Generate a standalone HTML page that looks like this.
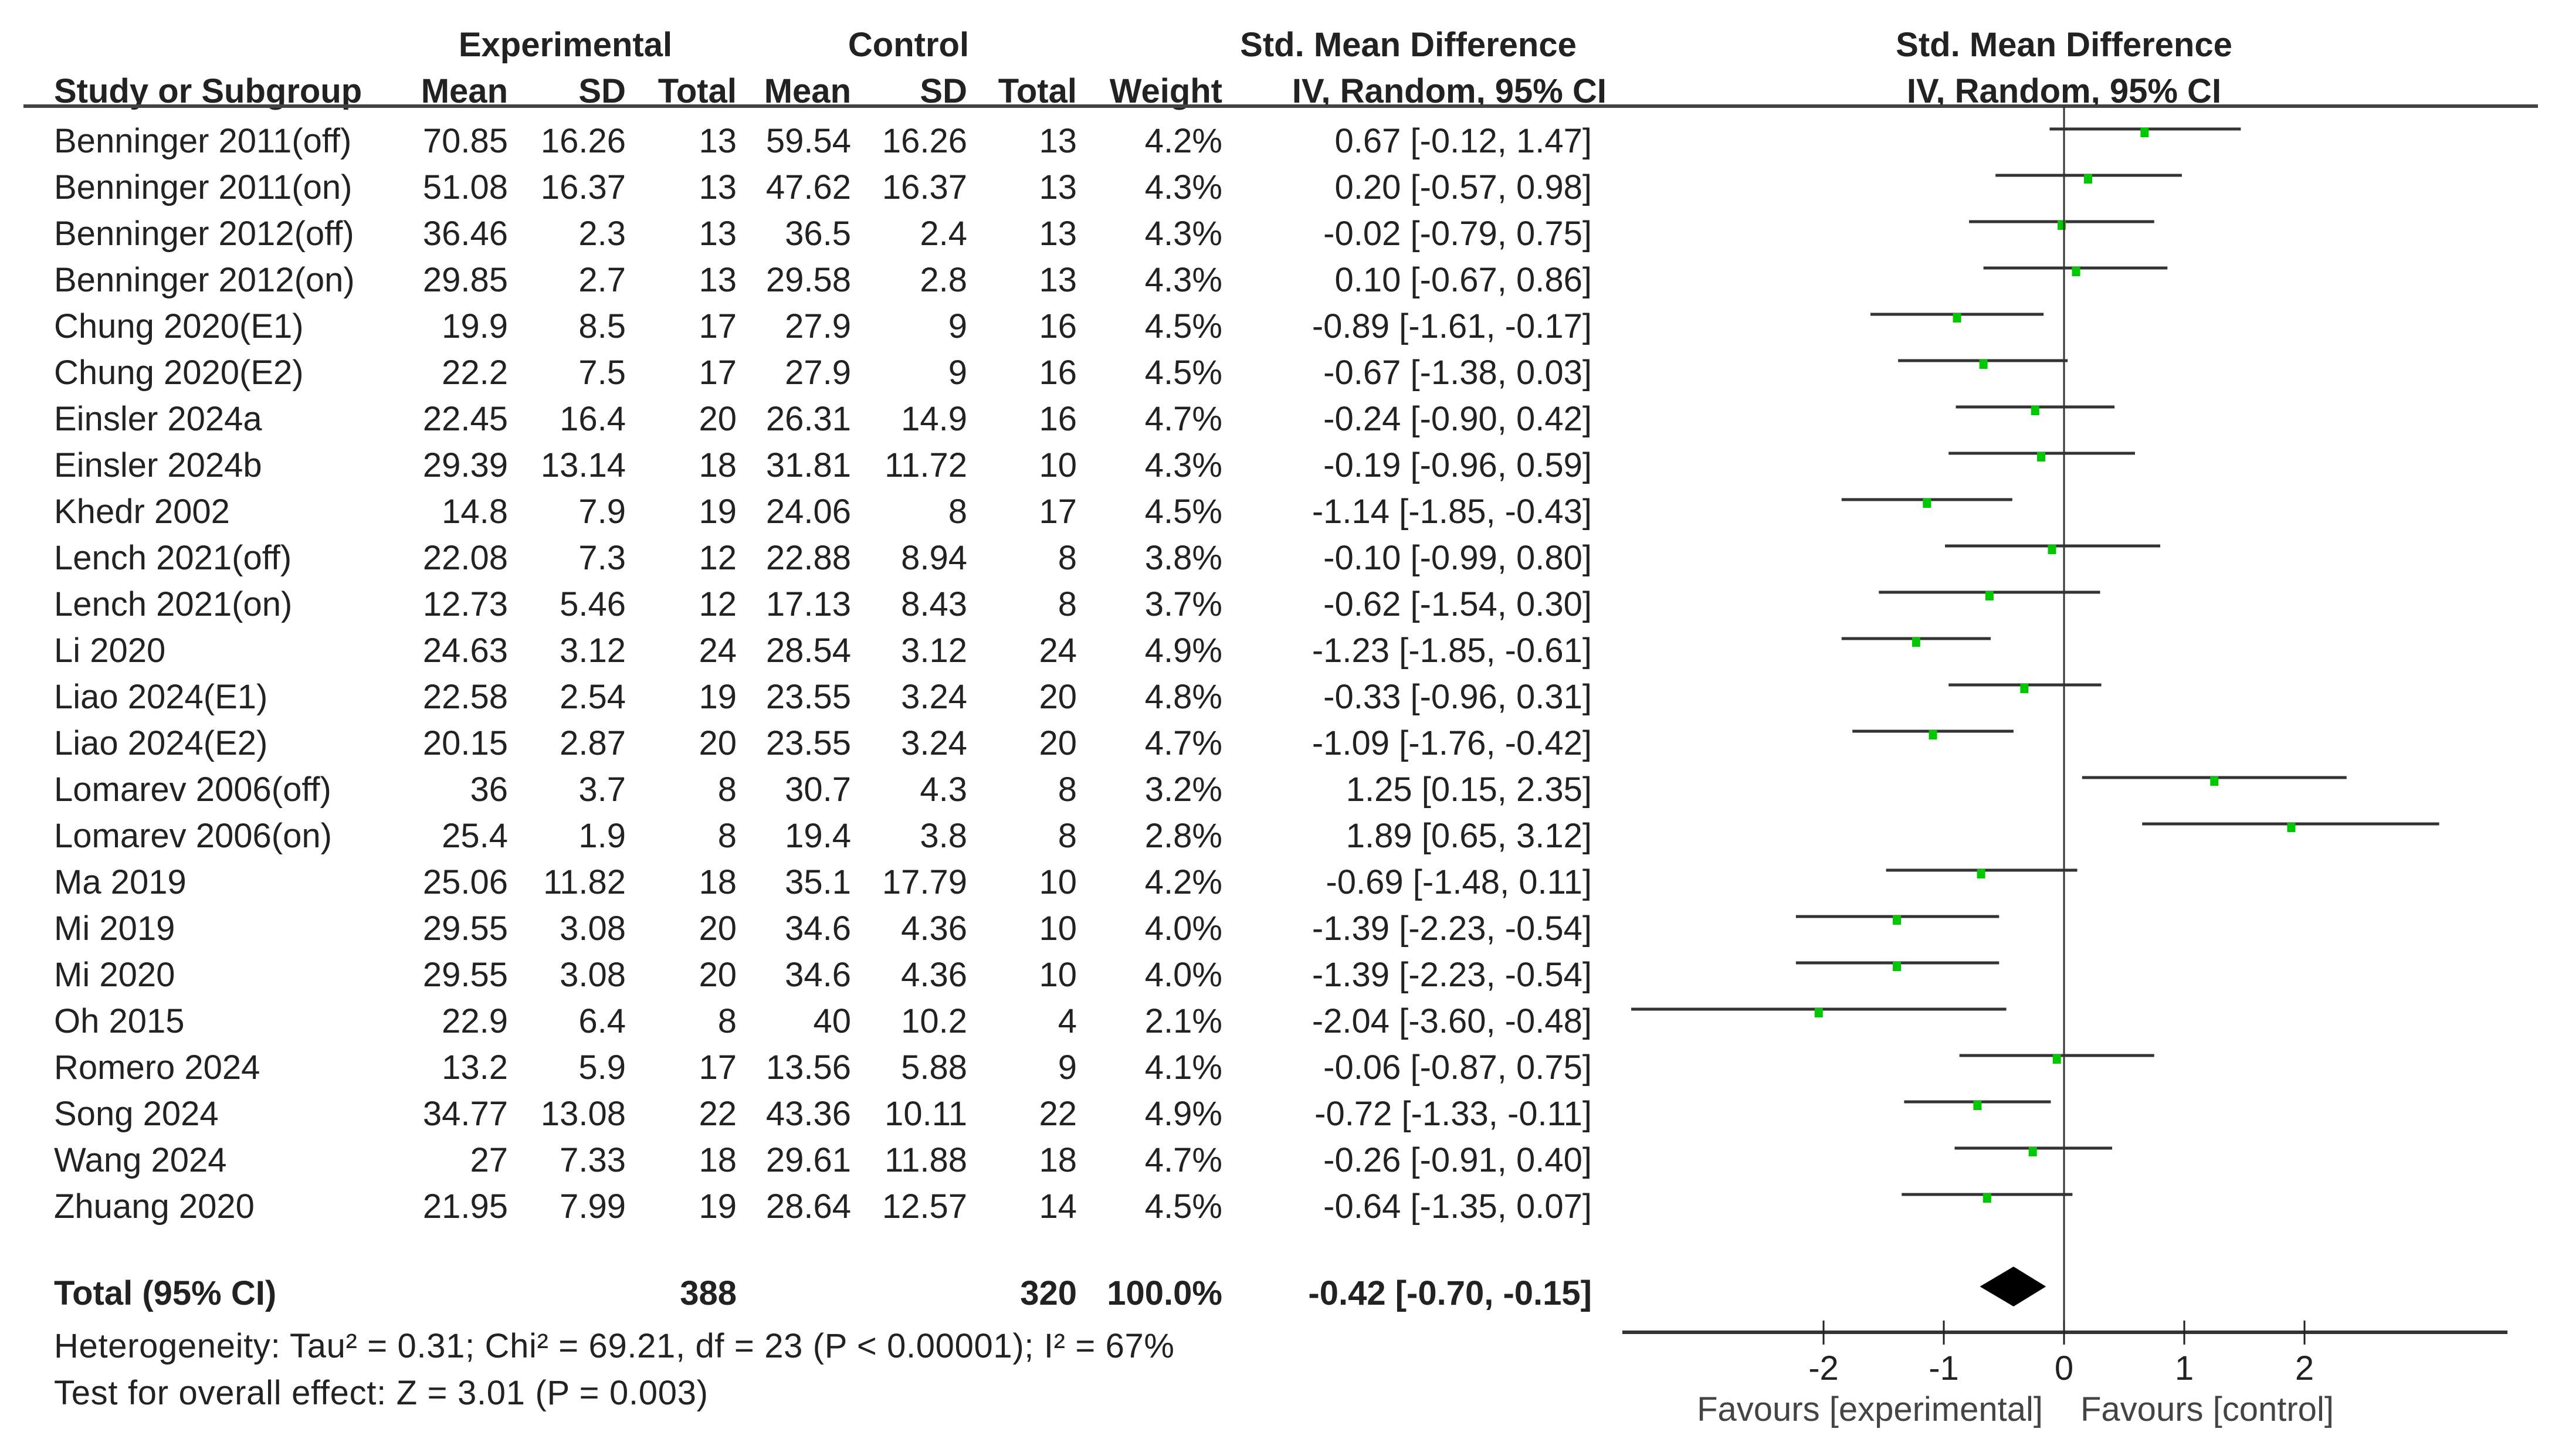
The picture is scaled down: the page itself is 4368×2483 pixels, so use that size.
<!DOCTYPE html>
<html><head><meta charset="utf-8"><style>
html,body{margin:0;padding:0;background:#fff;}
svg{display:block;font-family:"Liberation Sans",Arial,sans-serif;}
</style></head><body>
<svg id="fp" width="4368" height="2483" viewBox="0 0 4368 2483" xmlns="http://www.w3.org/2000/svg">
<rect width="4368" height="2483" fill="#fff"/>
<g font-size="58" font-weight="bold" fill="#222">
<text x="964" y="96" text-anchor="middle">Experimental</text>
<text x="1549" y="96" text-anchor="middle">Control</text>
<text x="2401" y="96" text-anchor="middle">Std. Mean Difference</text>
<text x="3519" y="96" text-anchor="middle">Std. Mean Difference</text>
<text x="92" y="175">Study or Subgroup</text>
<text x="866" y="175" text-anchor="end">Mean</text>
<text x="1067" y="175" text-anchor="end">SD</text>
<text x="1256" y="175" text-anchor="end">Total</text>
<text x="1451" y="175" text-anchor="end">Mean</text>
<text x="1649" y="175" text-anchor="end">SD</text>
<text x="1836" y="175" text-anchor="end">Total</text>
<text x="2084" y="175" text-anchor="end">Weight</text>
<text x="2739" y="175" text-anchor="end">IV, Random, 95% CI</text>
<text x="3519" y="175" text-anchor="middle">IV, Random, 95% CI</text>
</g>
<line x1="40" y1="181" x2="4327" y2="181" stroke="#444" stroke-width="6"/>
<g id="rows"></g>
<g id="plot"></g>
<g font-size="58" fill="#222">
<text x="92" y="2225" font-weight="bold">Total (95% CI)</text>
<text x="1256" y="2225" font-weight="bold" text-anchor="end">388</text>
<text x="1836" y="2225" font-weight="bold" text-anchor="end">320</text>
<text x="2084" y="2225" font-weight="bold" text-anchor="end">100.0%</text>
<text x="2714" y="2225" font-weight="bold" text-anchor="end">-0.42 [-0.70, -0.15]</text>
<text x="92" y="2315" textLength="1910" lengthAdjust="spacing">Heterogeneity: Tau² = 0.31; Chi² = 69.21, df = 23 (P &lt; 0.00001); I² = 67%</text>
<text x="92" y="2395" textLength="1115" lengthAdjust="spacing">Test for overall effect: Z = 3.01 (P = 0.003)</text>
<text x="3483" y="2423" text-anchor="end" fill="#444">Favours [experimental]</text>
<text x="3547" y="2423" fill="#444">Favours [control]</text>
</g>
</svg>
<script>
const studies=["Benninger 2011(off)","Benninger 2011(on)","Benninger 2012(off)","Benninger 2012(on)","Chung 2020(E1)","Chung 2020(E2)","Einsler 2024a","Einsler 2024b","Khedr 2002","Lench 2021(off)","Lench 2021(on)","Li 2020","Liao 2024(E1)","Liao 2024(E2)","Lomarev 2006(off)","Lomarev 2006(on)","Ma 2019","Mi 2019","Mi 2020","Oh 2015","Romero 2024","Song 2024","Wang 2024","Zhuang 2020"];
const expMean=["70.85","51.08","36.46","29.85","19.9","22.2","22.45","29.39","14.8","22.08","12.73","24.63","22.58","20.15","36","25.4","25.06","29.55","29.55","22.9","13.2","34.77","27","21.95"];
const expSD=["16.26","16.37","2.3","2.7","8.5","7.5","16.4","13.14","7.9","7.3","5.46","3.12","2.54","2.87","3.7","1.9","11.82","3.08","3.08","6.4","5.9","13.08","7.33","7.99"];
const expN=[13,13,13,13,17,17,20,18,19,12,12,24,19,20,8,8,18,20,20,8,17,22,18,19];
const ctrlMean=["59.54","47.62","36.5","29.58","27.9","27.9","26.31","31.81","24.06","22.88","17.13","28.54","23.55","23.55","30.7","19.4","35.1","34.6","34.6","40","13.56","43.36","29.61","28.64"];
const ctrlSD=["16.26","16.37","2.4","2.8","9","9","14.9","11.72","8","8.94","8.43","3.12","3.24","3.24","4.3","3.8","17.79","4.36","4.36","10.2","5.88","10.11","11.88","12.57"];
const ctrlN=[13,13,13,13,16,16,16,10,17,8,8,24,20,20,8,8,10,10,10,4,9,22,18,14];
const weights=[4.2,4.3,4.3,4.3,4.5,4.5,4.7,4.3,4.5,3.8,3.7,4.9,4.8,4.7,3.2,2.8,4.2,4.0,4.0,2.1,4.1,4.9,4.7,4.5];
const smd=[0.67,0.20,-0.02,0.10,-0.89,-0.67,-0.24,-0.19,-1.14,-0.10,-0.62,-1.23,-0.33,-1.09,1.25,1.89,-0.69,-1.39,-1.39,-2.04,-0.06,-0.72,-0.26,-0.64];
const lo=[-0.12,-0.57,-0.79,-0.67,-1.61,-1.38,-0.90,-0.96,-1.85,-0.99,-1.54,-1.85,-0.96,-1.76,0.15,0.65,-1.48,-2.23,-2.23,-3.60,-0.87,-1.33,-0.91,-1.35];
const hi=[1.47,0.98,0.75,0.86,-0.17,0.03,0.42,0.59,-0.43,0.80,0.30,-0.61,0.31,-0.42,2.35,3.12,0.11,-0.54,-0.54,-0.48,0.75,-0.11,0.40,0.07];
const total=[-0.42,-0.70,-0.15];
const ticks=[-2,-1,0,1,2];

const NS="http://www.w3.org/2000/svg";
const X0=3519, UNIT=205;
const xs=v=>X0+v*UNIT;
const rowY=i=>260+79*i;
const f2=v=>v.toFixed(2);
function mk(tag,attrs,parent){const e=document.createElementNS(NS,tag);for(const k in attrs)e.setAttribute(k,attrs[k]);parent.appendChild(e);return e;}
const rows=document.getElementById('rows');
const plot=document.getElementById('plot');
const cols=[[expMean,866],[expSD,1067],[expN,1256],[ctrlMean,1451],[ctrlSD,1649],[ctrlN,1836]];
studies.forEach((s,i)=>{
  const y=rowY(i);
  const g=mk('g',{'font-size':58,fill:'#222'},rows);
  
  
  const t=mk('text',{x:92,y:y},g);t.textContent=s;
  
  
  cols.forEach(c=>{const e=mk('text',{x:c[1],y:y,'text-anchor':'end'},g);e.textContent=c[0][i];
    
    });
  const w=mk('text',{x:2084,y:y,'text-anchor':'end'},g);w.textContent=weights[i].toFixed(1)+'%';
  
  
  const ci=mk('text',{x:2714,y:y,'text-anchor':'end'},g);ci.textContent=f2(smd[i])+' ['+f2(lo[i])+', '+f2(hi[i])+']';
  
  
  const ly=y-40;
  const l=mk('line',{x1:xs(lo[i]),x2:xs(hi[i]),y1:ly,y2:ly,stroke:'#333','stroke-width':5},plot);
  
  
  const m=mk('rect',{x:xs(smd[i])-7,y:ly-2,width:14,height:16,fill:'#00c800'},plot);
  
  
});
const z=mk('line',{x1:X0,x2:X0,y1:181,y2:2272,stroke:'#333','stroke-width':3},plot);


const dy=2194,dh=34;
const d=mk('polygon',{points:`${xs(total[1])},${dy} ${xs(total[0])},${dy-dh} ${xs(total[2])},${dy} ${xs(total[0])},${dy+dh}`,fill:'#000'},plot);


const ax=mk('line',{x1:2766,x2:4275,y1:2272,y2:2272,stroke:'#333','stroke-width':6},plot);


ticks.forEach(t=>{
  const tk=mk('line',{x1:xs(t),x2:xs(t),y1:2252,y2:2293,stroke:'#222','stroke-width':3},plot);
  
  
  const tl=mk('text',{x:xs(t),y:2353,'text-anchor':'middle','font-size':58,fill:'#222'},plot);
  tl.textContent=String(t);
  
  
});
</script>
</body></html>
